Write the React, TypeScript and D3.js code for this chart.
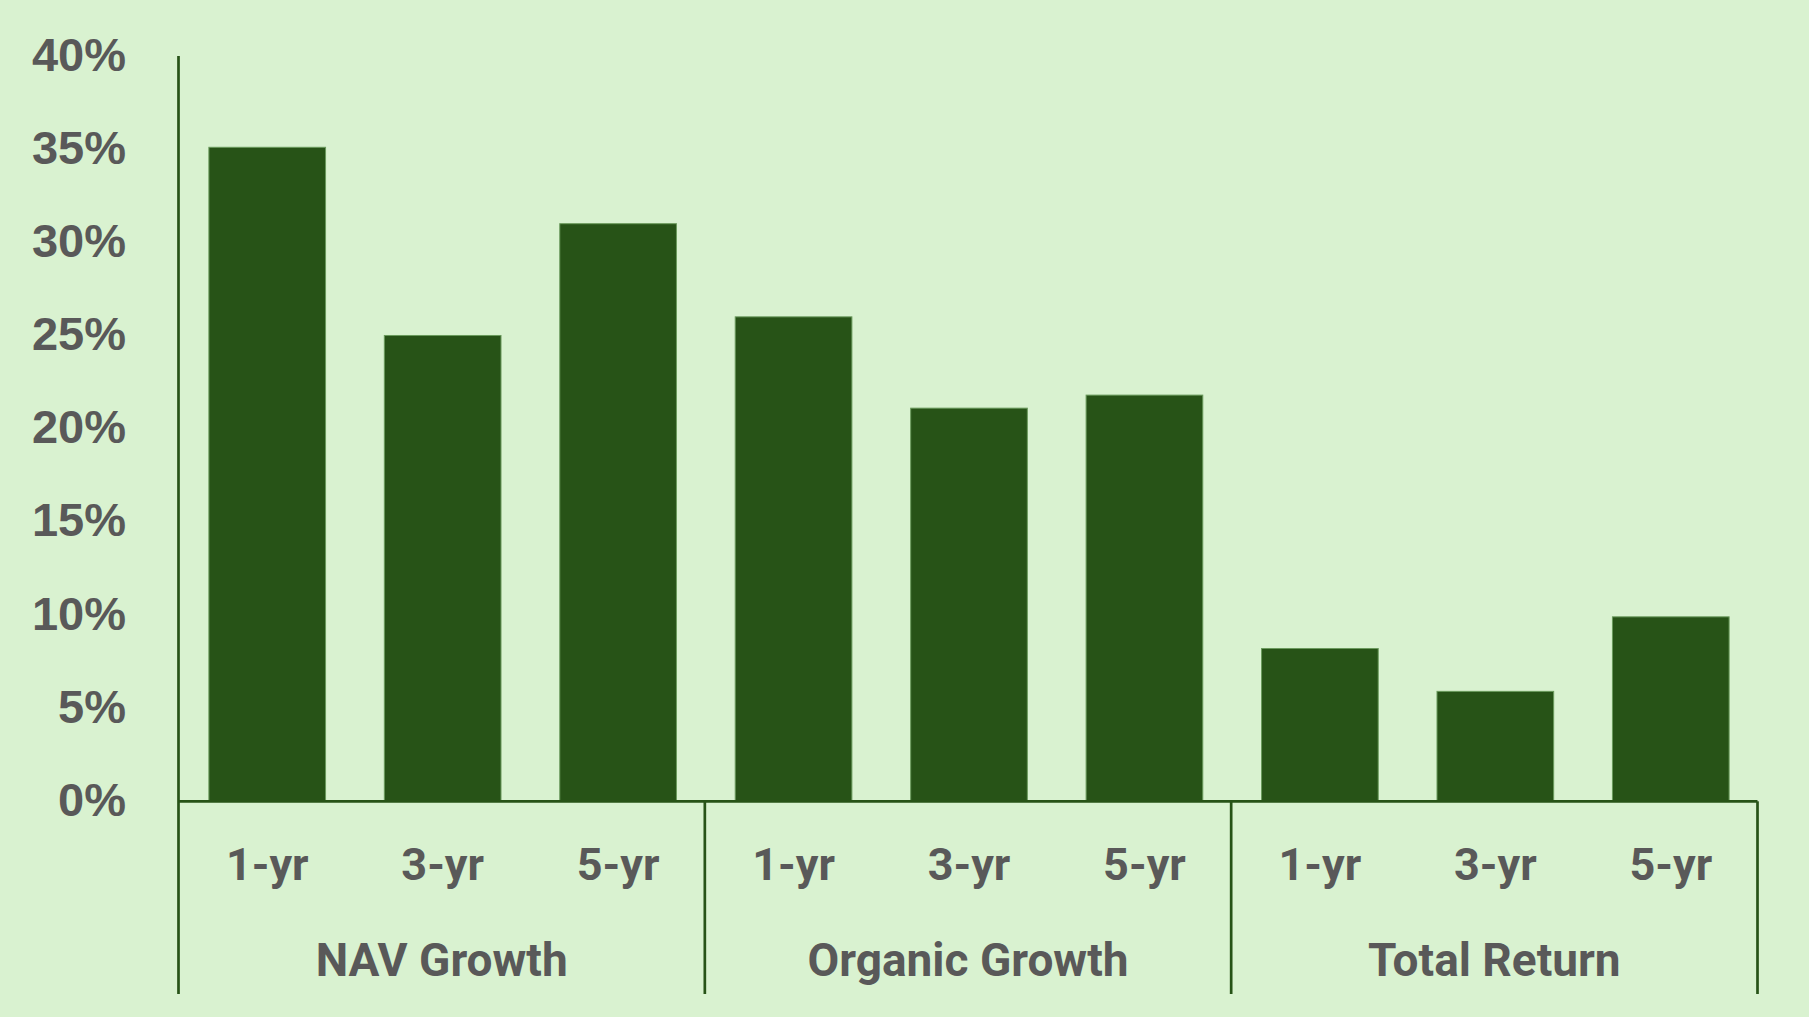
import React, { useEffect, useRef } from 'react';
import * as d3 from 'd3';

const groups = ['NAV Growth', 'Organic Growth', 'Total Return'];
const periods = ['1-yr', '3-yr', '5-yr'];
const navGrowth = [35.1, 25.0, 31.0];
const organicGrowth = [26.0, 21.1, 21.8];
const totalReturn = [8.2, 5.9, 9.9];
const yTicks = [0, 5, 10, 15, 20, 25, 30, 35, 40];

interface BarDatum {
  group: string;
  period: string;
  key: string;
  value: number;
}

const seriesByGroup: number[][] = [navGrowth, organicGrowth, totalReturn];

const App: React.FC = () => {
  const ref = useRef<SVGSVGElement | null>(null);

  useEffect(() => {
    const W = 1809;
    const H = 1017;
    const left = 178.5;
    const right = 1757.5;
    const top = 56;
    const base = 801.3;
    const bottom = 994;
    const dark = '#275317';
    const grey = '#595959';

    const data: BarDatum[] = groups.flatMap((g, gi) =>
      periods.map((p, pi) => ({ group: g, period: p, key: `${g}-${p}`, value: seriesByGroup[gi][pi] }))
    );

    const svg = d3.select(ref.current)
      .attr('width', W)
      .attr('height', H);
    svg.selectAll('*').remove();

    svg.append('rect')
      .attr('width', W)
      .attr('height', H)
      .attr('fill', '#D9F2D0');

    const x = d3.scaleBand()
      .domain(data.map(d => d.key))
      .range([left + 1, right + 1])
      .paddingInner(0.335)
      .paddingOuter(0.1675);

    const y = d3.scaleLinear()
      .domain([0, 40])
      .range([base, top]);

    // y tick labels
    svg.append('g')
      .attr('transform', 'translate(126,0)')
      .call(d3.axisLeft(y).tickValues(yTicks).tickSize(0).tickPadding(0).tickFormat((d: any) => `${d}%`))
      .call(g => g.select('.domain').remove())
      .selectAll('text')
      .attr('font-family', '"Liberation Sans", Arial, sans-serif')
      .attr('font-weight', 'bold')
      .attr('font-size', 47)
      .attr('fill', grey)
      .attr('dy', '0.30em');

    // bars
    svg.append('g')
      .selectAll('rect')
      .data(data)
      .enter()
      .append('rect')
      .attr('x', d => x(d.key) as number)
      .attr('y', d => y(d.value))
      .attr('width', x.bandwidth())
      .attr('height', d => y(0) - y(d.value))
      .attr('fill', dark)
      .attr('stroke', '#6a9a5c')
      .attr('stroke-width', 1);

    const groupX = d3.scaleBand()
      .domain(groups)
      .range([left, right]);

    // axis lines
    const axis = svg.append('g')
      .attr('stroke', dark)
      .attr('stroke-width', 2.7);
    axis.append('line')
      .attr('x1', left).attr('x2', left)
      .attr('y1', top).attr('y2', bottom);
    axis.append('line')
      .attr('x1', left).attr('x2', right)
      .attr('y1', base).attr('y2', base);
    axis.selectAll('.divider')
      .data(groups)
      .enter()
      .append('line')
      .attr('x1', d => (groupX(d) as number) + groupX.step())
      .attr('x2', d => (groupX(d) as number) + groupX.step())
      .attr('y1', base)
      .attr('y2', bottom);

    // period labels
    svg.append('g')
      .selectAll('text')
      .data(data)
      .enter()
      .append('text')
      .attr('x', d => (x(d.key) as number) + x.bandwidth() / 2)
      .attr('y', 880)
      .attr('text-anchor', 'middle')
      .attr('font-family', 'Roboto, "Noto Sans", sans-serif')
      .attr('font-weight', 'bold')
      .attr('font-size', 45)
      .attr('fill', grey)
      .text(d => d.period);

    // group labels
    svg.append('g')
      .selectAll('text')
      .data(groups)
      .enter()
      .append('text')
      .attr('x', d => (groupX(d) as number) + groupX.bandwidth() / 2)
      .attr('y', 976)
      .attr('text-anchor', 'middle')
      .attr('font-family', 'Roboto, "Noto Sans", sans-serif')
      .attr('font-weight', 'bold')
      .attr('font-size', 46)
      .attr('fill', grey)
      .text(d => d);
  }, []);

  return <svg ref={ref} style={{ position: 'absolute', left: 0, top: 0, display: 'block' }}></svg>;
};

export default App;
